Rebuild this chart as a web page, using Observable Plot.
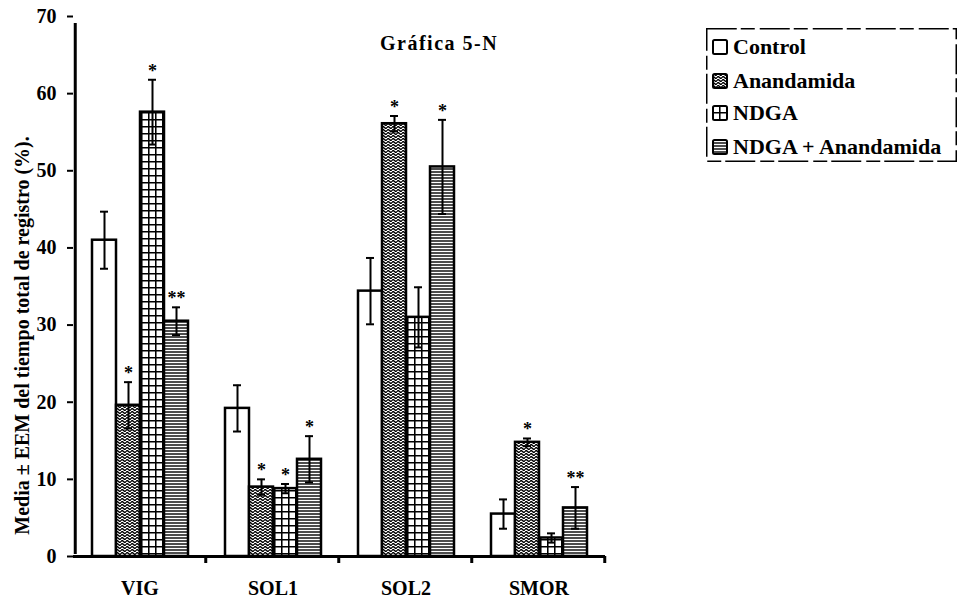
<!DOCTYPE html>
<html><head><meta charset="utf-8">
<script src="https://cdn.jsdelivr.net/npm/d3@7"></script>
<script src="https://cdn.jsdelivr.net/npm/@observablehq/plot@0.6"></script>
<style>
body{margin:0;background:#fff;}
#wrap{position:relative;width:961px;height:599px;font-family:"Liberation Serif","Times New Roman",serif;font-weight:bold;color:#000;}
#chart{position:absolute;left:0;top:0;}
#title{position:absolute;left:380px;top:32px;font-size:20px;letter-spacing:1.5px;white-space:nowrap;}
#legend{position:absolute;left:706px;top:28px;width:251px;height:134px;font-size:22px;}
#legend .border{position:absolute;left:0;top:0;}
#legend .row{position:absolute;left:6px;height:22px;line-height:22px;display:flex;align-items:center;white-space:nowrap;}
#legend .row svg{margin-right:5px;}
</style></head>
<body><div id="wrap"><div id="chart"></div><div id="title">Gráfica 5-N</div><div id="legend"></div></div>
<script>
// ---- data ----
const categories = ["VIG", "SOL1", "SOL2", "SMOR"];
const series = ["Control", "Anandamida", "NDGA", "NDGA + Anandamida"];
const controlMean = [41.0, 19.2, 34.4, 5.5];
const controlSem = [3.7, 3.0, 4.3, 1.9];
const anandamidaMean = [19.6, 9.0, 56.1, 14.8];
const anandamidaSem = [3.0, 1.0, 1.0, 0.5];
const ndgaMean = [57.6, 8.8, 31.0, 2.4];
const ndgaSem = [4.2, 0.6, 3.9, 0.6];
const ndgaAnandamidaMean = [30.5, 12.6, 50.5, 6.3];
const ndgaAnandamidaSem = [1.8, 3.0, 6.1, 2.7];
const controlStars = ["", "", "", ""];
const anandamidaStars = ["*", "*", "*", "*"];
const ndgaStars = ["*", "*", "", ""];
const ndgaAnandamidaStars = ["**", "*", "*", "**"];
const yTicks = [0, 10, 20, 30, 40, 50, 60, 70];
const yLabel = "Media ± EEM del tiempo total de registro (%).";
const patternIds = ["p-control", "p-anand", "p-ndga", "p-ndgaanand"];

const means = [controlMean, anandamidaMean, ndgaMean, ndgaAnandamidaMean];
const sems = [controlSem, anandamidaSem, ndgaSem, ndgaAnandamidaSem];
const stars = [controlStars, anandamidaStars, ndgaStars, ndgaAnandamidaStars];
const rows = [];
categories.forEach((c, ci) => series.forEach((s, si) => rows.push({
  cat: c, series: s, v: means[si][ci], sem: sems[si][ci], star: stars[si][ci]
})));
const fills = patternIds.map(id => `url(#${id})`);

// ---- layout ----
const W = 961, H = 599, mL = 72, mR = 355, mT = 16, mB = 43;
const bandOuter = 0.67;
const facetW = (W - mL - mR) / categories.length;
const step = facetW / (series.length + 2 * bandOuter);
const edgeOffset = step / 2 + bandOuter * step;

const plot = Plot.plot({
  width: W, height: H,
  marginLeft: mL, marginRight: mR, marginTop: mT, marginBottom: mB,
  style: {fontFamily: "Liberation Serif, Times New Roman, serif", fontWeight: "bold", fontSize: "20px", color: "#000", background: "transparent", overflow: "visible"},
  fx: {domain: categories, padding: 0, label: null},
  x: {domain: series, paddingInner: 0, paddingOuter: bandOuter, axis: null},
  y: {domain: [0, 70], label: null},
  color: {domain: series, range: fills},
  marks: [
    Plot.barY(rows, {fx: "cat", x: "series", y: "v", fill: "series", stroke: "#000", strokeWidth: 2.5}),
    Plot.ruleX(rows, {fx: "cat", x: "series", y1: d => d.v - d.sem, y2: d => d.v + d.sem, stroke: "#000", strokeWidth: 2}),
    Plot.tickY(rows, {fx: "cat", x: "series", y: d => d.v + d.sem, inset: 8, stroke: "#000", strokeWidth: 2}),
    Plot.tickY(rows, {fx: "cat", x: "series", y: d => d.v - d.sem, inset: 8, stroke: "#000", strokeWidth: 2}),
    Plot.text(rows.filter(d => d.star), {fx: "cat", x: "series", y: d => d.v + d.sem, text: "star", dy: -9, fontSize: 18, fill: "#000"}),
    Plot.ruleY([0], {stroke: "#000", strokeWidth: 3}),
    Plot.ruleX([series[0]], {fx: [categories[0]], x: d => d, y1: 0, y2: 70, insetTop: -2, insetBottom: -7, dx: -edgeOffset, stroke: "#000", strokeWidth: 3}),
    Plot.ruleX(categories, {fx: d => d, x: () => series[series.length - 1], y1: 0, y2: 0, insetBottom: -7, dx: edgeOffset, stroke: "#000", strokeWidth: 3}),
    Plot.axisY({ticks: yTicks, tickSize: 6, tickPadding: 11, strokeWidth: 2, label: null, fontSize: 20}),
    Plot.axisFx({anchor: "bottom", tickSize: 0, tickPadding: 24, label: null, fontSize: 20}),
    Plot.text([yLabel], {fx: [categories[0]], frameAnchor: "left", text: d => d, rotate: -90, textAnchor: "middle", dx: -51, dy: 49, fontSize: 20, fill: "#000"})
  ]
});

function addPatterns(sel) {
  const defs = sel.insert("defs", ":first-child");
  let p = defs.append("pattern").attr("id", patternIds[0]).attr("patternUnits", "userSpaceOnUse").attr("width", 4).attr("height", 4);
  p.append("rect").attr("width", 4).attr("height", 4).attr("fill", "#fff");
  p = defs.append("pattern").attr("id", patternIds[1]).attr("patternUnits", "userSpaceOnUse").attr("width", 5).attr("height", 3);
  p.append("rect").attr("width", 5).attr("height", 3).attr("fill", "#fff");
  p.append("path").attr("d", "M0,1.5 L1.25,0.4 L2.5,1.5 L3.75,2.6 L5,1.5").attr("fill", "none").attr("stroke", "#000").attr("stroke-width", 1.4);
  p = defs.append("pattern").attr("id", patternIds[2]).attr("patternUnits", "userSpaceOnUse").attr("width", 7).attr("height", 7);
  p.append("rect").attr("width", 7).attr("height", 7).attr("fill", "#fff");
  p.append("path").attr("d", "M0,0.75 H7 M0.75,0 V7").attr("stroke", "#000").attr("stroke-width", 1.6);
  p = defs.append("pattern").attr("id", patternIds[3]).attr("patternUnits", "userSpaceOnUse").attr("width", 6).attr("height", 3);
  p.append("rect").attr("width", 6).attr("height", 3).attr("fill", "#fff");
  p.append("path").attr("d", "M0,1 H6").attr("stroke", "#000").attr("stroke-width", 1.4);
}
addPatterns(d3.select(plot));
document.getElementById("chart").appendChild(plot);

// ---- legend ----
const legend = d3.select("#legend");
const lw = 251, lh = 134;
legend.append("svg").attr("class", "border").attr("width", lw).attr("height", lh)
  .append("rect").attr("x", 0.75).attr("y", 0.75).attr("width", lw - 1.5).attr("height", lh - 1.5)
  .attr("fill", "none").attr("stroke", "#000").attr("stroke-width", 1.5).attr("stroke-dasharray", "30 4 14 5");
const rowCenters = [19, 53, 85, 119];
series.forEach((s, i) => {
  const r = legend.append("div").attr("class", "row").style("top", (rowCenters[i] - 11) + "px");
  const sv = r.append("svg").attr("width", 16).attr("height", 16);
  sv.append("rect").attr("x", 1).attr("y", 1).attr("width", 14).attr("height", 14).attr("rx", 1.5)
    .attr("fill", fills[i]).attr("stroke", "#000").attr("stroke-width", 2);
  r.append("span").text(s);
});
</script>
</body></html>
